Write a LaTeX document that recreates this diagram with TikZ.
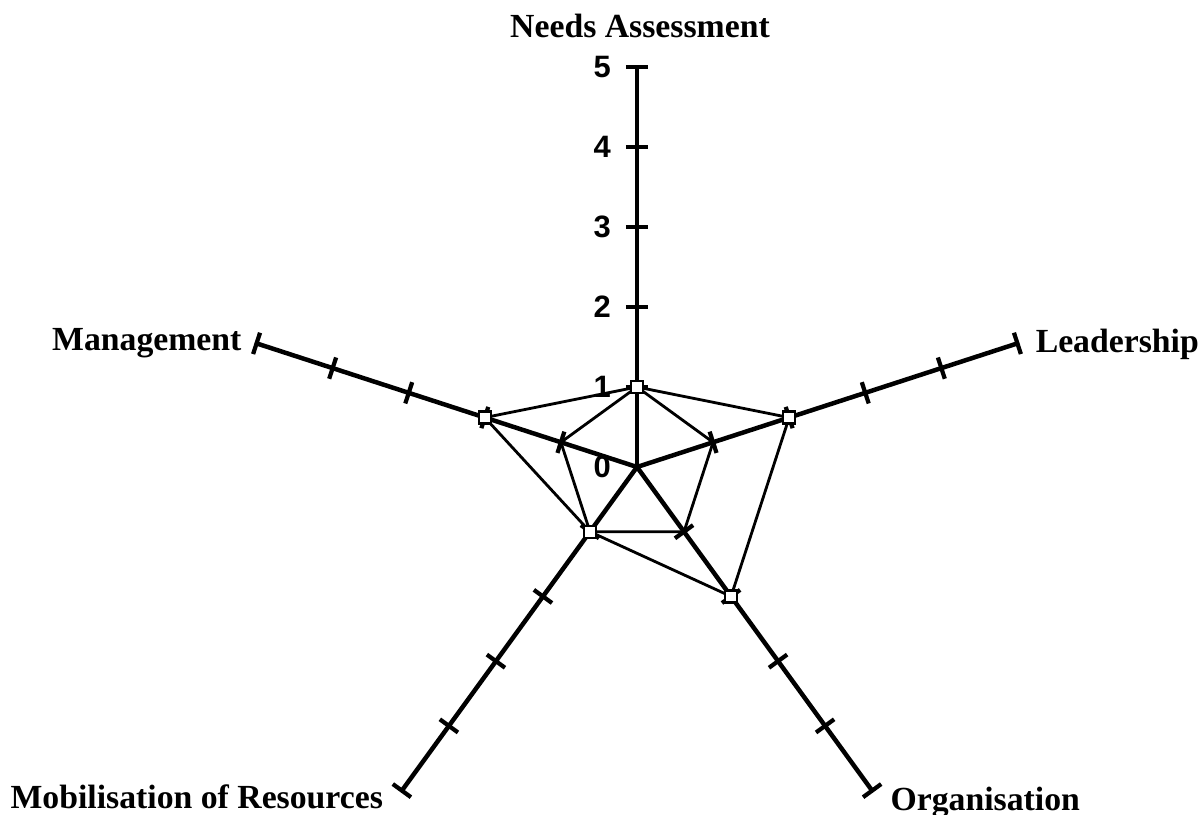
\documentclass[tikz,border=0pt]{standalone}
\usepackage{fontspec}
\setmainfont{Liberation Serif}
\setsansfont{Liberation Sans}
\usetikzlibrary{calc}
\begin{document}
\begin{tikzpicture}[
  axisline/.style={line width=1.6pt},
  tickmark/.style={line width=1.5pt},
  series/.style={line width=1pt,line join=round},
  marker/.style={draw,fill=white,line width=0.8pt,inner sep=0pt,minimum size=0.15cm},
  axislabel/.style={font=\bfseries\fontsize{12}{14}\selectfont,inner sep=0pt},
  scalelabel/.style={font=\sffamily\bfseries\fontsize{11}{13}\selectfont,anchor=east,inner sep=0pt}
]
\useasboundingbox (0,0) rectangle (15.025,10.175);
\coordinate (O) at (7.9625,4.3375);
% axes with ticks at 1..5
\foreach \ang/\name in {90/need,18/lead,-54/org,-126/mob,162/man}{
  \draw[axisline] (O) -- ($(O)+(\ang:5)$);
  \foreach \v in {1,...,5}{
    \coordinate (\name\v) at ($(O)+(\ang:\v)$);
    \draw[tickmark] ($(\name\v)+(\ang+90:0.14)$) -- ($(\name\v)+(\ang-90:0.14)$);
  }
}
% scale
\foreach \v in {0,...,5}
  \node[scalelabel] (s\v) at ($(O)+(-0.32,\v)$) {\v};
% series
\draw[series] (need1) -- (lead1) -- (org1) -- (mob1) -- (man1) -- cycle;
\draw[series] (need1) -- (lead2) -- (org2) -- (mob1) -- (man2) -- cycle;
\foreach \p in {need1,lead2,org2,mob1,man2}
  \node[marker] (m-\p) at (\p) {};
% axis labels
\node[axislabel,anchor=base] (lneed) at (8.0,9.7125) {Needs Assessment};
\node[axislabel,anchor=base west] (llead) at (12.94,5.775) {Leadership};
\node[axislabel,anchor=base east] (lman) at (3.025,5.8) {Management};
\node[axislabel,anchor=base west] (lmob) at (0.125,0.075) {Mobilisation of Resources};
\node[axislabel,anchor=base west] (lorg) at (11.125,0.05) {Organisation};
\end{tikzpicture}
\end{document}
